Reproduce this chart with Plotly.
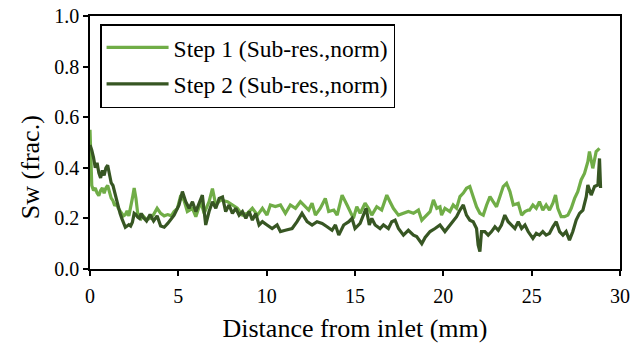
import plotly.graph_objects as go

# Step 1 (light green) distance (mm) and Sw
x_step1 = [0.0, 0.05, 0.1, 0.2, 0.3, 0.4, 0.5, 0.6, 0.7, 0.8, 0.9, 1.0, 1.1, 1.2, 1.3, 1.4, 1.5, 1.6, 1.7, 1.8, 1.9,
           2.0, 2.1, 2.2, 2.3, 2.4, 2.5, 2.6, 2.7, 2.8, 2.9, 3.0, 3.2, 3.4, 3.6, 3.8, 4.0, 4.2, 4.4, 4.6,
           4.76, 4.95, 5.14, 5.33, 5.51, 5.80, 5.99, 6.27, 6.46, 6.74, 6.93, 7.12, 7.40, 7.78, 8.06, 8.34, 8.63,
           8.91, 9.19, 9.48, 9.76, 10.02, 10.21, 10.49, 10.78, 11.06, 11.34, 11.63, 11.91, 12.10, 12.38, 12.57,
           12.76, 13.04, 13.32, 13.51, 13.80, 13.99, 14.27, 14.55, 14.74, 14.91, 15.10, 15.29, 15.57, 15.76,
           15.95, 16.23, 16.51, 16.80, 16.98, 17.17, 17.46, 17.74, 18.02, 18.31, 18.59, 18.78, 19.06, 19.25,
           19.44, 19.63, 19.81, 19.90, 20.09, 20.37, 20.56, 20.75, 20.94, 21.13, 21.31, 21.50, 21.69, 21.88,
           22.07, 22.26, 22.45, 22.64, 22.82, 23.01, 23.20, 23.39, 23.58, 23.77, 23.96, 24.24, 24.43, 24.62,
           24.80, 24.88, 25.07, 25.26, 25.44, 25.63, 25.82, 26.01, 26.20, 26.35, 26.48, 26.67, 26.86, 27.05,
           27.24, 27.43, 27.61, 27.80, 27.99, 28.18, 28.27, 28.46, 28.65, 28.84]
y_step1 = [0.55, 0.45, 0.33, 0.31, 0.32, 0.30, 0.29, 0.31, 0.32, 0.30, 0.32, 0.33, 0.30, 0.28, 0.27, 0.25, 0.26, 0.24, 0.23, 0.22, 0.21,
           0.215, 0.23, 0.21, 0.24, 0.28, 0.32, 0.28, 0.22, 0.21, 0.20, 0.21, 0.195, 0.20, 0.215, 0.24, 0.22, 0.21, 0.215, 0.21,
           0.227, 0.24, 0.292, 0.27, 0.227, 0.24, 0.207, 0.266, 0.22, 0.266, 0.318, 0.253, 0.273, 0.266, 0.253, 0.24, 0.213,
           0.22, 0.24, 0.213, 0.24, 0.213, 0.253, 0.247, 0.253, 0.22, 0.253, 0.24, 0.266, 0.253, 0.233, 0.26,
           0.213, 0.24, 0.279, 0.227, 0.233, 0.213, 0.292, 0.253, 0.227, 0.20, 0.246, 0.22, 0.26, 0.24,
           0.213, 0.246, 0.233, 0.292, 0.266, 0.24, 0.213, 0.22, 0.227, 0.22, 0.233, 0.193, 0.213, 0.227,
           0.273, 0.24, 0.246, 0.213, 0.24, 0.227, 0.253, 0.24, 0.286, 0.30, 0.319, 0.326, 0.286, 0.246,
           0.22, 0.213, 0.253, 0.286, 0.266, 0.246, 0.286, 0.326, 0.339, 0.306, 0.253, 0.26, 0.213, 0.227,
           0.233, 0.233, 0.253, 0.24, 0.266, 0.233, 0.253, 0.233, 0.26, 0.292, 0.24, 0.207, 0.207, 0.213,
           0.24, 0.279, 0.306, 0.352, 0.378, 0.424, 0.464, 0.398, 0.464, 0.477]

# Step 2 (dark green) distance (mm) and Sw
x_step2 = [0.0, 0.1, 0.2, 0.3, 0.4, 0.5, 0.6, 0.7, 0.8, 0.9, 1.0, 1.1, 1.2, 1.3, 1.4, 1.5, 1.6, 1.7, 1.8, 1.9,
           2.0, 2.1, 2.2, 2.3, 2.4, 2.5, 2.6, 2.7, 2.8, 2.9, 3.0, 3.2, 3.4, 3.6, 3.8, 4.0, 4.2, 4.4, 4.6,
           4.76, 5.04, 5.23, 5.42, 5.61, 5.80, 5.99, 6.18, 6.36, 6.55, 6.74, 6.93, 7.12, 7.31, 7.50, 7.68, 7.87,
           8.06, 8.25, 8.44, 8.63, 8.82, 9.01, 9.19, 9.38, 9.57, 9.76, 10.02, 10.31, 10.59, 10.78, 11.06, 11.44,
           11.72, 12.00, 12.29, 12.57, 12.85, 13.14, 13.42, 13.70, 13.89, 14.08, 14.36, 14.65, 14.83, 15.00,
           15.29, 15.47, 15.63, 15.81, 15.95, 16.14, 16.42, 16.61, 16.89, 17.08, 17.27, 17.46, 17.74, 18.02,
           18.31, 18.49, 18.78, 18.97, 19.25, 19.53, 19.81, 20.09, 20.37, 20.56, 20.75, 20.94, 21.13, 21.31,
           21.50, 21.69, 21.88, 21.97, 22.07, 22.16, 22.35, 22.54, 22.73, 22.92, 23.11, 23.29, 23.48, 23.67,
           23.86, 24.05, 24.24, 24.43, 24.62, 24.80, 25.07, 25.26, 25.44, 25.63, 25.82, 26.01, 26.20, 26.39,
           26.58, 26.77, 26.95, 27.14, 27.33, 27.52, 27.71, 27.90, 28.09, 28.18, 28.37, 28.56, 28.75, 28.84, 28.90]
y_step2 = [0.49, 0.47, 0.44, 0.40, 0.42, 0.38, 0.36, 0.39, 0.37, 0.40, 0.41, 0.37, 0.34, 0.33, 0.30, 0.27, 0.24, 0.22, 0.20, 0.18,
           0.165, 0.17, 0.175, 0.17, 0.185, 0.22, 0.215, 0.205, 0.20, 0.22, 0.205, 0.19, 0.215, 0.19, 0.21, 0.17, 0.165, 0.18, 0.20,
           0.213, 0.253, 0.306, 0.266, 0.24, 0.266, 0.227, 0.26, 0.292, 0.174, 0.227, 0.266, 0.24, 0.279, 0.285, 0.227, 0.253,
           0.22, 0.24, 0.213, 0.227, 0.20, 0.227, 0.193, 0.22, 0.174, 0.187, 0.174, 0.16, 0.174, 0.148, 0.153, 0.16,
           0.187, 0.22, 0.187, 0.174, 0.187, 0.18, 0.167, 0.153, 0.174, 0.134, 0.174, 0.187, 0.20, 0.16,
           0.18, 0.213, 0.24, 0.174, 0.20, 0.174, 0.16, 0.174, 0.16, 0.187, 0.193, 0.16, 0.134, 0.153,
           0.134, 0.128, 0.10, 0.125, 0.148, 0.16, 0.174, 0.148, 0.174, 0.193, 0.207, 0.233, 0.253, 0.213,
           0.193, 0.187, 0.16, 0.095, 0.069, 0.148, 0.148, 0.134, 0.148, 0.167, 0.153, 0.174, 0.213, 0.187,
           0.174, 0.16, 0.187, 0.16, 0.174, 0.148, 0.121, 0.141, 0.134, 0.148, 0.134, 0.141, 0.167, 0.187,
           0.148, 0.134, 0.148, 0.114, 0.148, 0.193, 0.22, 0.233, 0.286, 0.332, 0.292, 0.326, 0.332, 0.437, 0.32]

x_ticks = [0, 5, 10, 15, 20, 25, 30]
y_ticks = [0.0, 0.2, 0.4, 0.6, 0.8, 1.0]

FONT = "Liberation Serif, Times New Roman, serif"

fig = go.Figure()
fig.add_trace(go.Scatter(x=x_step1, y=y_step1, mode="lines", name="Step 1 (Sub-res.,norm)",
                         legendgroup="s1", line=dict(color="#70AD47", width=3.2)))
fig.add_trace(go.Scatter(x=x_step2, y=y_step2, mode="lines", name="Step 2 (Sub-res.,norm)",
                         legendgroup="s2", line=dict(color="#375623", width=3.2)))

fig.update_layout(
    width=630, height=351,
    margin=dict(l=90, r=10, t=16, b=82, autoexpand=False),
    paper_bgcolor="white", plot_bgcolor="white",
    font=dict(family=FONT, size=20, color="black"),
    showlegend=True,
    legend=dict(x=0.019, y=0.968, xanchor="left", yanchor="top",
                bordercolor="black", borderwidth=1.5, bgcolor="white",
                font=dict(family=FONT, size=23.5, color="black"),
                traceorder="grouped", tracegroupgap=3, itemwidth=62),
    annotations=[dict(text="Sw (frac.)", textangle=-90, xref="paper", yref="paper",
                      x=-0.113, y=0.403, xanchor="center", yanchor="middle", showarrow=False,
                      font=dict(family=FONT, size=26, color="black"))],
)
fig.update_xaxes(range=[0, 30], tickvals=x_ticks, showline=True, linecolor="black", linewidth=1.5,
                 mirror=True, ticks="outside", ticklen=5, tickcolor="black", tickwidth=1.5,
                 showgrid=False, zeroline=False, automargin=False, ticklabelstandoff=3,
                 title=dict(text="Distance from inlet (mm)", font=dict(family=FONT, size=26), standoff=13),
                 tickfont=dict(family=FONT, size=20))
fig.update_yaxes(range=[0, 1.0], tickvals=y_ticks, tickformat=".1f", showline=True, linecolor="black",
                 linewidth=1.5, mirror=True, ticks="outside", ticklen=5, tickcolor="black", tickwidth=1.5,
                 showgrid=False, zeroline=False, automargin=False,
                 tickfont=dict(family=FONT, size=20))

fig.write_html("out.html", config={"displayModeBar": False},
               post_script="document.body.style.margin='0';")
